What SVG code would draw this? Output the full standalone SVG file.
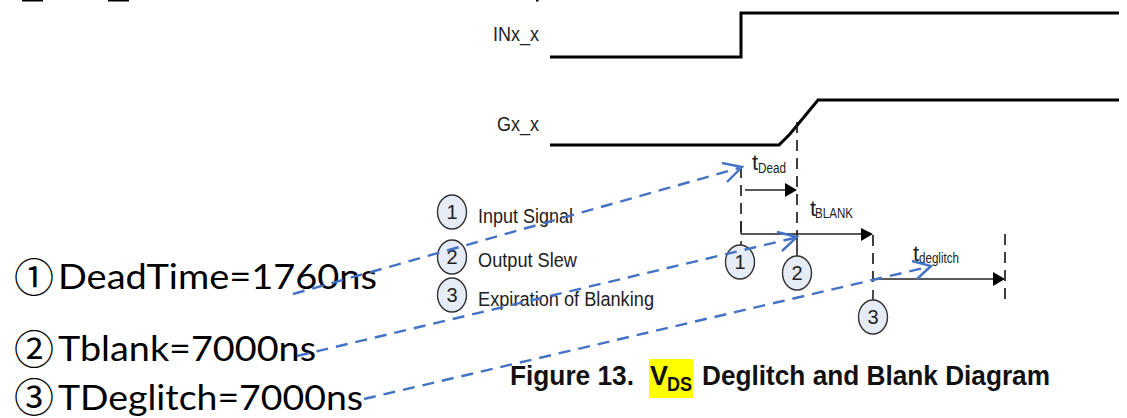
<svg xmlns="http://www.w3.org/2000/svg" width="1127" height="418" viewBox="0 0 1127 418">
<style>
.sig{fill:none;stroke:#000;stroke-width:3}
.dash{fill:none;stroke:#111;stroke-width:1.6;stroke-dasharray:11 7}
.arr{fill:none;stroke:#222;stroke-width:1.6}
.head{fill:#000;stroke:none}
.blue{fill:none;stroke:#4472c4;stroke-width:2.4;stroke-dasharray:12 8}
.open{fill:none;stroke:#4472c4;stroke-width:2.4}
.c{fill:#e6ecf6;stroke:#333;stroke-width:1.4}
.t{font-family:"Liberation Sans",Arial,sans-serif;fill:#222;font-size:20px}
.n{font-family:"Liberation Sans",Arial,sans-serif;fill:#222;font-size:20px;text-anchor:middle}
.tt{font-size:22px}
.s{font-size:14px}
.big{font-family:Lato,"Noto Sans CJK SC",sans-serif;fill:#000;font-size:35px}
.num{font-family:"Noto Sans CJK SC",sans-serif;font-size:40px}
.cap{font-family:"Liberation Sans",Arial,sans-serif;fill:#111;font-size:27px;font-weight:bold}
</style>
<g id="top-edge">
<rect x="22" y="0" width="21" height="1.5" fill="#000"/>
<rect x="108" y="0" width="21" height="1.5" fill="#000"/>
<rect x="536" y="0" width="2.5" height="1.5" fill="#000"/>
</g>
<g id="signals">
<path class="sig" d="M550 57H741V13H1119"/>
<path class="sig" d="M550 145H779L790 134L818 100H1119"/>
<text class="t" x="493" y="41" textLength="46" lengthAdjust="spacingAndGlyphs">INx_x</text>
<text class="t" x="497" y="131" textLength="42" lengthAdjust="spacingAndGlyphs">Gx_x</text>
</g>
<g id="timing">
<path class="dash" d="M741 167V234"/>
<path class="arr" d="M741 222V234M741 241V246"/>
<path class="dash" d="M797 122V240"/>
<path class="arr" d="M797 240V257"/>
<path class="dash" d="M873 235V286"/>
<path class="arr" d="M873 290V300"/>
<path class="dash" d="M1005 234V302"/>
<path class="arr" d="M745 190H788"/>
<path class="head" d="M785 183L797 190L785 197Z"/>
<path class="arr" d="M741 234H865"/>
<path class="head" d="M861 228L873 234L861 241Z"/>
<path class="arr" d="M873 279H996"/>
<path class="head" d="M993 272L1005 279L993 286Z"/>
<text class="t tt" x="752" y="170">t</text><text class="t s" x="758" y="173" textLength="28" lengthAdjust="spacingAndGlyphs">Dead</text>
<text class="t tt" x="810" y="216">t</text><text class="t s" x="815" y="218" textLength="38" lengthAdjust="spacingAndGlyphs">BLANK</text>
<text class="t tt" x="913" y="261">t</text><text class="t s" x="919" y="263" textLength="40" lengthAdjust="spacingAndGlyphs">deglitch</text>
</g>
<g id="legend-1"><ellipse class="c" cx="452" cy="212" rx="14.5" ry="17"/><text class="n" x="452" y="219">1</text><text class="t" x="478" y="223" textLength="95" lengthAdjust="spacingAndGlyphs">Input Signal</text></g>
<g id="legend-2"><ellipse class="c" cx="452" cy="257" rx="14.5" ry="17"/><text class="n" x="452" y="264">2</text><text class="t" x="478" y="267" textLength="99" lengthAdjust="spacingAndGlyphs">Output Slew</text></g>
<g id="legend-3"><ellipse class="c" cx="452" cy="295" rx="14.5" ry="17"/><text class="n" x="452" y="302">3</text><text class="t" x="478" y="306" textLength="176" lengthAdjust="spacingAndGlyphs">Expiration of Blanking</text></g>
<g id="marker-1"><ellipse class="c" cx="740" cy="262" rx="14.5" ry="17"/><text class="n" x="740" y="269">1</text></g>
<g id="marker-2"><ellipse class="c" cx="797" cy="273" rx="14.5" ry="17"/><text class="n" x="797" y="280">2</text></g>
<g id="marker-3"><ellipse class="c" cx="873" cy="317" rx="14.5" ry="17"/><text class="n" x="873" y="324">3</text></g>
<g id="caption">
<rect x="649" y="359" width="44" height="39" fill="#ffff00"/>
<text class="cap" x="510" y="385" textLength="124" lengthAdjust="spacingAndGlyphs">Figure 13.</text>
<text class="cap" x="650" y="385">V</text>
<text class="cap" x="667" y="391" style="font-size:20px" textLength="25" lengthAdjust="spacingAndGlyphs">DS</text>
<text class="cap" x="702" y="385" textLength="348" lengthAdjust="spacingAndGlyphs">Deglitch and Blank Diagram</text>
</g>
<g id="values">
<text class="big"><tspan class="num" x="14" y="292">①</tspan><tspan x="58" y="289" textLength="319" lengthAdjust="spacingAndGlyphs">DeadTime=1760ns</tspan></text>
<text class="big"><tspan class="num" x="14" y="364">②</tspan><tspan x="58" y="361" textLength="258" lengthAdjust="spacingAndGlyphs">Tblank=7000ns</tspan></text>
<text class="big"><tspan class="num" x="14" y="412">③</tspan><tspan x="58" y="410" textLength="305" lengthAdjust="spacingAndGlyphs">TDeglitch=7000ns</tspan></text>
</g>
<g id="connectors">
<path class="blue" d="M293 294L739 168"/>
<path class="open" d="M722 163L742 167L727 182"/>
<path class="blue" d="M297 356L794 238"/>
<path class="open" d="M777 232L797 237L782 251"/>
<path class="blue" d="M364 399L928 267"/>
<path class="open" d="M912 261L931 266L917 279"/>
</g>
</svg>
